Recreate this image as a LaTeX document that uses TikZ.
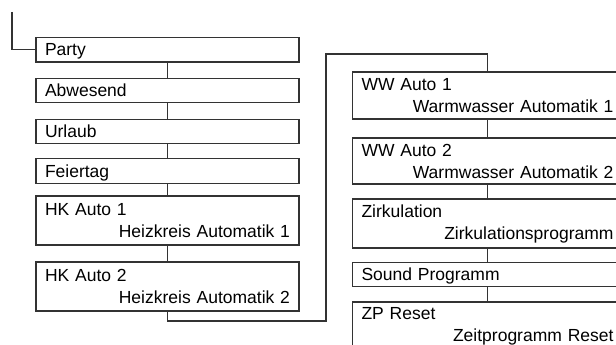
\documentclass[tikz,border=0pt]{standalone}
\usepackage{fontspec}
\setmainfont{Liberation Sans}
\usepackage{tikz}

\begin{document}
\begin{tikzpicture}[
  x=1pt, y=-1pt,
  box/.style={draw=black!80, line width=1.1pt, minimum width=263pt,
    text width=245pt, inner xsep=9pt, inner ysep=0pt, align=left,
    font=\fontsize{17.5}{22}\selectfont},
  single/.style={box, text height=12.5pt, text depth=0pt, minimum height=24.5pt},
  double/.style={box, minimum height=48pt},
  wide/.style={minimum width=270pt, text width=252pt},
  link/.style={draw=black!80, line width=1.1pt}
]

\clip (0,0) rectangle (616,345);

% Linke Spalte
\node[single] (party) at (167.5,49.75) {Party};
\node[single] (abwesend) at (167.5,90.5) {Abwesend};
\node[single] (urlaub) at (167.5,131.5) {Urlaub};
\node[single] (feiertag) at (167.5,171) {Feiertag};
\node[double, minimum height=49pt] (hkauto1) at (167.5,220.5) {HK Auto 1\\\hspace*{\fill}Heizkreis Automatik 1};
\node[double, minimum height=49pt] (hkauto2) at (167.5,286.5) {HK Auto 2\\\hspace*{\fill}Heizkreis Automatik 2};

% Rechte Spalte, rechts abgeschnitten
\node[double, wide, minimum height=47pt] (wwauto1) at (487.5,95.5) {WW Auto 1\\\hspace*{\fill}Warmwasser Automatik 1\hspace*{7pt}};
\node[double, wide, minimum height=46pt] (wwauto2) at (487.5,161) {WW Auto 2\\\hspace*{\fill}Warmwasser Automatik 2\hspace*{7pt}};
\node[double, wide, minimum height=49pt] (zirkulation) at (487.5,223.5) {Zirkulation\\\hspace*{\fill}Zirkulationsprogramm\hspace*{7pt}};
\node[single, wide, minimum height=23.5pt] (sound) at (487.5,274.5) {Sound Programm};
\node[double, wide] (zpreset) at (487.5,326) {ZP Reset\\\hspace*{\fill}Zeitprogramm Reset\hspace*{7pt}};

% Verbindungen
\coordinate (start) at (12,12);
\coordinate (unten) at (326,321);
\coordinate (oben) at (326,54);

\draw[link] (start) |- (party.west);
\draw[link] (party) -- (abwesend);
\draw[link] (abwesend) -- (urlaub);
\draw[link] (urlaub) -- (feiertag);
\draw[link] (feiertag) -- (hkauto1);
\draw[link] (hkauto1) -- (hkauto2);
\draw[link] (hkauto2.south) |- (unten) -- (oben) -| (wwauto1.north);
\draw[link] (wwauto1) -- (wwauto2);
\draw[link] (wwauto2) -- (zirkulation);
\draw[link] (zirkulation) -- (sound);
\draw[link] (sound) -- (zpreset);

\end{tikzpicture}
\end{document}
